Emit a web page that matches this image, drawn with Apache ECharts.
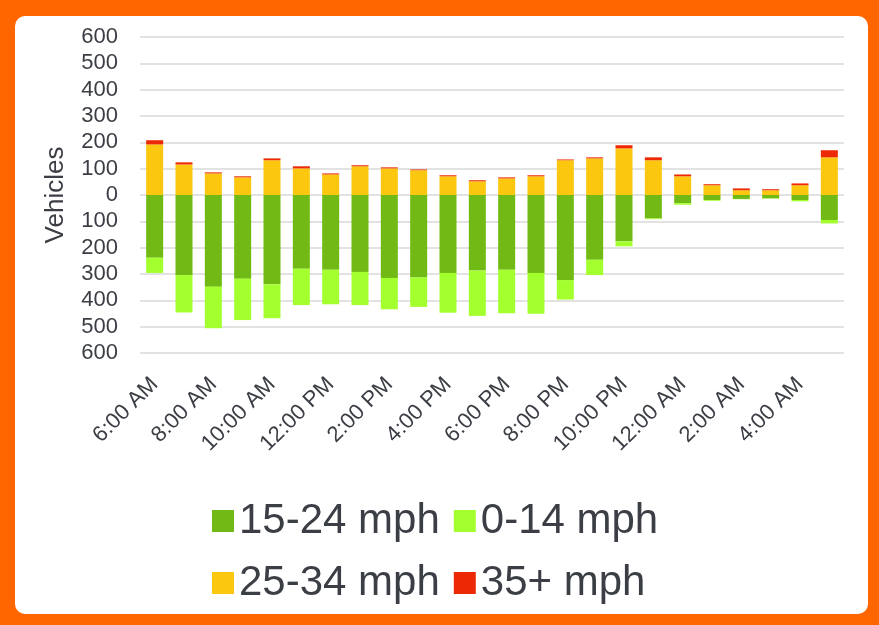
<!DOCTYPE html>
<html>
<head>
<meta charset="utf-8">
<script src="https://cdn.jsdelivr.net/npm/echarts@6/dist/echarts.min.js"></script>
<style>
html,body{margin:0;padding:0;background:#fff;}
#frame{position:absolute;left:0;top:0;width:879px;height:625px;background:#FF6600;}
#inner{position:absolute;left:15px;top:16px;width:853px;height:598px;background:#fff;border-radius:10px;}
#chart{position:absolute;left:0;top:0;width:879px;height:625px;}
</style>
</head>
<body>
<div id="frame"><div id="inner"></div></div>
<div id="chart"></div>
<script>
const categories = ['6:00 AM','7:00 AM','8:00 AM','9:00 AM','10:00 AM','11:00 AM','12:00 PM','1:00 PM','2:00 PM','3:00 PM','4:00 PM','5:00 PM','6:00 PM','7:00 PM','8:00 PM','9:00 PM','10:00 PM','11:00 PM','12:00 AM','1:00 AM','2:00 AM','3:00 AM','4:00 AM','5:00 AM'];
// vehicle counts (drawn below zero for the two slower bands)
const speed15to24 = [238,304,348,318,339,280,284,292,315,313,296,287,284,296,323,246,176,89,31,19,15,13,19,95];
const speed0to14  = [58,142,158,157,129,138,131,126,119,112,151,172,165,155,74,58,19,3,6,3,1,1,5,13];
const speed25to34 = [192,116,82,67,132,101,78,109,101,94,71,52,63,71,132,139,177,132,71,37,18,18,37,143];
const speed35plus = [16,8,4,4,7,8,4,4,4,3,4,4,4,4,3,4,12,11,7,4,7,4,7,27];
const yTicks = {min:-600, max:600, step:100};

const textColor = '#3b3e45';
const chart = echarts.init(document.getElementById('chart'), null, {renderer:'canvas'});
const neg = a => a.map(v => -v);
const option = {
  backgroundColor: 'transparent',
  animation: false,
  textStyle: {fontFamily: 'Liberation Sans, Arial, sans-serif'},
  grid: {left:140, right:35, top:37, bottom:272, containLabel:false},
  legend: [
    {data:['15-24 mph','0-14 mph'], left:207, top:495, itemWidth:22, itemHeight:22, itemGap:14,
     icon:'rect', textStyle:{fontSize:42, color:textColor, lineHeight:42}},
    {data:['25-34 mph','35+ mph'], left:207, top:557, itemWidth:22, itemHeight:22, itemGap:14,
     icon:'rect', textStyle:{fontSize:42, color:textColor, lineHeight:42}}
  ],
  xAxis: {
    type:'category', data:categories,
    axisLine:{show:false, onZero:false}, axisTick:{show:false},
    axisLabel:{interval:1, rotate:45, fontSize:22, color:textColor, margin:28},
    splitLine:{show:false}
  },
  yAxis: {
    type:'value', min:yTicks.min, max:yTicks.max, interval:yTicks.step,
    name:'Vehicles', nameLocation:'middle', nameRotate:90, nameGap:71,
    nameTextStyle:{fontSize:26, color:textColor},
    axisLine:{show:false}, axisTick:{show:false},
    axisLabel:{fontSize:22, color:textColor, margin:22, formatter: v => String(Math.abs(v))},
    splitLine:{lineStyle:{color:'#d9d9d9', width:1.5}}
  },
  series: [
    {name:'15-24 mph', type:'bar', stack:'s', barWidth:17, data:neg(speed15to24), itemStyle:{color:'#71B914'}},
    {name:'0-14 mph', type:'bar', stack:'s', barWidth:17, data:neg(speed0to14), itemStyle:{color:'#A4FF2E'}},
    {name:'25-34 mph', type:'bar', stack:'s', barWidth:17, data:speed25to34, itemStyle:{color:'#FBC70F'}},
    {name:'35+ mph', type:'bar', stack:'s', barWidth:17, data:speed35plus, itemStyle:{color:'#EC2904'}}
  ]
};
chart.setOption(option);
</script>
</body>
</html>
